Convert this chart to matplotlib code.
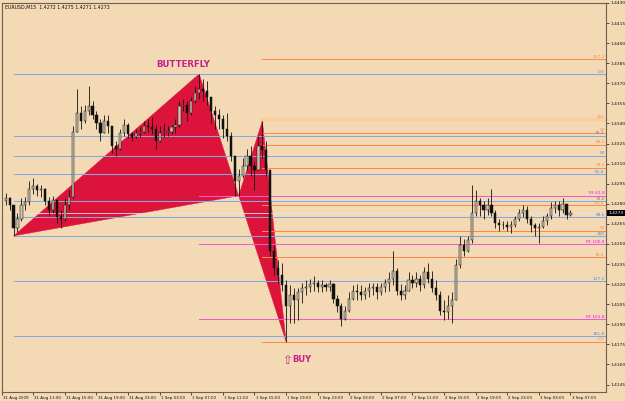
import matplotlib
matplotlib.use("Agg")
import matplotlib.pyplot as plt
import matplotlib.transforms as mtransforms
from matplotlib.patches import Polygon, Rectangle

# ---------------- data ----------------
title_text = "EURUSD,M15  1.4272 1.4275 1.4271 1.4273"

open0 = 1.4282
closes = [1.4284, 1.4279, 1.4262, 1.4269, 1.4279, 1.4281, 1.4291, 1.4293, 1.4290, 1.4291,
          1.4282, 1.4275, 1.4283, 1.4270, 1.4269, 1.4279, 1.4285, 1.4334, 1.4348, 1.4342,
          1.4349, 1.4353, 1.4346, 1.4340, 1.4333, 1.4342, 1.4338, 1.4323, 1.4321, 1.4333,
          1.4339, 1.4332, 1.4330, 1.4333, 1.4334, 1.4338, 1.4337, 1.4336, 1.4327, 1.4333,
          1.4334, 1.4334, 1.4337, 1.4339, 1.4353, 1.4354, 1.4348, 1.4357, 1.4363, 1.4366,
          1.4364, 1.4360, 1.4349, 1.4346, 1.4343, 1.4336, 1.4331, 1.4316, 1.4297, 1.4301,
          1.4308, 1.4316, 1.4308, 1.4305, 1.4323, 1.4320, 1.4305, 1.4245, 1.4232, 1.4227,
          1.4219, 1.4204, 1.4212, 1.4208, 1.4214, 1.4217, 1.4218, 1.4220, 1.4221, 1.4218,
          1.4219, 1.4218, 1.4220, 1.4209, 1.4204, 1.4194, 1.4200, 1.4209, 1.4215, 1.4214,
          1.4212, 1.4215, 1.4217, 1.4218, 1.4214, 1.4218, 1.4221, 1.4224, 1.4230, 1.4215,
          1.4212, 1.4215, 1.4223, 1.4221, 1.4224, 1.4219, 1.4229, 1.4224, 1.4217, 1.4212,
          1.4200, 1.4199, 1.4204, 1.4208, 1.4234, 1.4249, 1.4245, 1.4253, 1.4273, 1.4282,
          1.4279, 1.4275, 1.4279, 1.4273, 1.4266, 1.4264, 1.4264, 1.4263, 1.4264, 1.4269,
          1.4273, 1.4275, 1.4269, 1.4264, 1.4262, 1.4263, 1.4267, 1.4271, 1.4277, 1.4279,
          1.4275, 1.4280, 1.4272, 1.4273]
highs = [1.4288, 1.4285, 1.4279, 1.4273, 1.4284, 1.4285, 1.4297, 1.4299, 1.4295, 1.4294,
         1.4292, 1.4285, 1.4286, 1.4282, 1.4275, 1.4284, 1.4290, 1.4338, 1.4366, 1.4353,
         1.4354, 1.4368, 1.4357, 1.4349, 1.4343, 1.4346, 1.4346, 1.4338, 1.4327, 1.4336,
         1.4343, 1.4340, 1.4334, 1.4336, 1.4337, 1.4342, 1.4343, 1.4345, 1.4339, 1.4338,
         1.4340, 1.4338, 1.4339, 1.4343, 1.4357, 1.4358, 1.4357, 1.4360, 1.4368, 1.4377,
         1.4373, 1.4372, 1.4360, 1.4353, 1.4351, 1.4346, 1.4348, 1.4334, 1.4316, 1.4306,
         1.4314, 1.4321, 1.4323, 1.4312, 1.4331, 1.4342, 1.4327, 1.4305, 1.4249, 1.4238,
         1.4236, 1.4223, 1.4219, 1.4217, 1.4217, 1.4221, 1.4223, 1.4224, 1.4226, 1.4223,
         1.4223, 1.4221, 1.4223, 1.4221, 1.4212, 1.4206, 1.4204, 1.4214, 1.4219, 1.4220,
         1.4219, 1.4218, 1.4221, 1.4221, 1.4221, 1.4221, 1.4224, 1.4229, 1.4245, 1.4232,
         1.4220, 1.4219, 1.4229, 1.4227, 1.4229, 1.4227, 1.4233, 1.4236, 1.4230, 1.4223,
         1.4215, 1.4208, 1.4212, 1.4214, 1.4239, 1.4256, 1.4254, 1.4256, 1.4294, 1.4290,
         1.4284, 1.4282, 1.4284, 1.4291, 1.4275, 1.4269, 1.4267, 1.4267, 1.4267, 1.4271,
         1.4276, 1.4279, 1.4278, 1.4271, 1.4266, 1.4266, 1.4271, 1.4273, 1.4281, 1.4282,
         1.4282, 1.4284, 1.4278, 1.4275]
lows = [1.4279, 1.4275, 1.4256, 1.4259, 1.4267, 1.4275, 1.4279, 1.4287, 1.4286, 1.4285,
        1.4279, 1.4272, 1.4273, 1.4266, 1.4262, 1.4267, 1.4275, 1.4284, 1.4336, 1.4336,
        1.4340, 1.4346, 1.4343, 1.4336, 1.4327, 1.4334, 1.4333, 1.4318, 1.4316, 1.4320,
        1.4331, 1.4329, 1.4327, 1.4329, 1.4330, 1.4333, 1.4334, 1.4332, 1.4321, 1.4326,
        1.4330, 1.4331, 1.4332, 1.4333, 1.4337, 1.4349, 1.4342, 1.4346, 1.4355, 1.4358,
        1.4357, 1.4354, 1.4340, 1.4336, 1.4336, 1.4329, 1.4327, 1.4312, 1.4286, 1.4286,
        1.4299, 1.4305, 1.4301, 1.4290, 1.4308, 1.4314, 1.4301, 1.4241, 1.4227, 1.4221,
        1.4215, 1.4177, 1.4191, 1.4191, 1.4193, 1.4206, 1.4212, 1.4214, 1.4215, 1.4214,
        1.4214, 1.4215, 1.4215, 1.4206, 1.4199, 1.4189, 1.4193, 1.4199, 1.4208, 1.4208,
        1.4208, 1.4209, 1.4210, 1.4212, 1.4209, 1.4212, 1.4214, 1.4215, 1.4219, 1.4212,
        1.4208, 1.4209, 1.4215, 1.4217, 1.4218, 1.4215, 1.4217, 1.4221, 1.4214, 1.4208,
        1.4197, 1.4193, 1.4194, 1.4191, 1.4208, 1.4232, 1.4241, 1.4244, 1.4251, 1.4271,
        1.4271, 1.4269, 1.4272, 1.4271, 1.4262, 1.4260, 1.4261, 1.4260, 1.4258, 1.4263,
        1.4267, 1.4270, 1.4266, 1.4259, 1.4256, 1.4251, 1.4262, 1.4264, 1.4269, 1.4273,
        1.4271, 1.4273, 1.4269, 1.4271]

# butterfly pattern points (bar index, price): X, A, B, C, D
pattern_bars = [3, 50, 60, 66, 72]
pattern_prices = [1.4256, 1.4377, 1.4286, 1.4342, 1.4177]

# Fibonacci levels
blue_labels = ["0.0", "38.2", "50", "61.8", "78.6", "88.6", "100", "127.2", "161.8"]
blue_levels = [1.4377, 1.4331, 1.4316, 1.4302, 1.4282, 1.4270, 1.4256, 1.4222, 1.4181]
orange_labels = ["127.2", "50", "88.6", "78.6", "61.8", "50", "38.2", "0.0"]
orange_levels = [1.4388, 1.4333, 1.4324, 1.4307, 1.4279, 1.4260, 1.4240, 1.4177]
peach_label = "100"
peach_level = 1.4343
pink_labels = ["FE 61.8", "FE 100.0", "FE 161.8"]
pink_levels = [1.4286, 1.4250, 1.4194]

current_price = 1.4273

y_ticks = [1.4145, 1.4160, 1.4175, 1.4190, 1.4205, 1.4220, 1.4235, 1.4250, 1.4265,
           1.4280, 1.4295, 1.4310, 1.4325, 1.4340, 1.4355, 1.4370, 1.4385, 1.4400,
           1.4415, 1.4430]
x_tick_labels = ["31 Aug 2009", "31 Aug 11:00", "31 Aug 15:00", "31 Aug 19:00", "31 Aug 23:00",
                 "1 Sep 03:00", "1 Sep 07:00", "1 Sep 11:00", "1 Sep 15:00", "1 Sep 19:00",
                 "1 Sep 23:00", "2 Sep 03:00", "2 Sep 07:00", "2 Sep 11:00", "2 Sep 15:00",
                 "2 Sep 19:00", "2 Sep 23:00", "3 Sep 03:00", "3 Sep 07:00"]
bars_per_label = 8

# ---------------- style ----------------
BG = "#F3DAB4"
FRAME = "#6E6050"
CRIMSON = "#DC143C"
BLUE = "#84A9E2"
ORANGE = "#FF8A4C"
PEACH = "#FFC99A"
PINK = "#F05CC8"
MAGENTA = "#FF00FF"
TEXTPINK = "#C81E8C"

W, H = 625, 401
fig = plt.figure(figsize=(W / 100, H / 100), dpi=100, facecolor=BG)
left_px, right_px, top_px, bottom_px = 1.7, 606, 3, 392
ax = fig.add_axes([left_px / W, (H - bottom_px) / H,
                   (right_px - left_px) / W, (bottom_px - top_px) / H])
ax.set_facecolor(BG)

n = len(closes)
idx = list(range(1, n + 1))
opens = [open0] + closes[:-1]

XMAX = 153.0
ax.set_xlim(0, XMAX)
ax.set_ylim(1.41394, 1.44290)

# triangles
X, A, B, C, D = list(zip(pattern_bars, pattern_prices))
ax.add_patch(Polygon([X, A, B], closed=True, facecolor=CRIMSON, edgecolor=CRIMSON,
                     lw=0.3, zorder=1))
ax.add_patch(Polygon([B, C, D], closed=True, facecolor=CRIMSON, edgecolor=CRIMSON,
                     lw=0.3, zorder=1))

# faint bid line
ax.plot([0, XMAX], [current_price, current_price], color="#F5E2CC", lw=0.6, zorder=1.5)

# level lines
lab_x = XMAX - 0.35
fs_lab = 3.1
LW = 0.75
for lab, lv in zip(blue_labels, blue_levels):
    ax.plot([pattern_bars[0], XMAX], [lv, lv], color=BLUE, lw=LW, zorder=2)
    ax.text(lab_x, lv + 0.00003, lab, color="#5A86D0", fontsize=fs_lab,
            ha="right", va="bottom", zorder=5)
for lab, lv in zip(orange_labels, orange_levels):
    ax.plot([pattern_bars[3], XMAX], [lv, lv], color=ORANGE, lw=LW, zorder=2)
    ax.text(lab_x, lv + 0.00003, lab, color=ORANGE, fontsize=fs_lab,
            ha="right", va="bottom", zorder=5)
ax.plot([pattern_bars[3], XMAX], [peach_level, peach_level], color=PEACH, lw=2.4, zorder=2)
ax.text(lab_x, peach_level + 0.00005, peach_label, color=ORANGE, fontsize=fs_lab,
        ha="right", va="bottom", zorder=5)
for lab, lv in zip(pink_labels, pink_levels):
    ax.plot([pattern_bars[1], XMAX], [lv, lv], color=PINK, lw=LW, zorder=2)
    ax.text(lab_x, lv + 0.00003, lab, color=MAGENTA, fontsize=fs_lab,
            ha="right", va="bottom", zorder=5)

# candles
bw = 0.55
for i, o, h, l, c in zip(idx, opens, highs, lows, closes):
    hi = max(h, o, c)
    lo = min(l, o, c)
    ax.plot([i, i], [lo, hi], color="#111111", lw=0.6, zorder=3, solid_capstyle="butt")
    bot = min(o, c)
    ht = abs(c - o)
    if ht < 0.00003:
        ht = 0.00003
    fc = "#CFC4AE" if c >= o else "#111111"
    ax.add_patch(Rectangle((i - bw / 2, bot), bw, ht, facecolor=fc,
                           edgecolor="#111111", lw=0.35, zorder=3.5))

# pattern texts
ax.text(45.9, 1.43844, "BUTTERFLY", color=TEXTPINK, fontsize=6.2, fontweight="bold",
        ha="center", va="center", zorder=6)
ax.text(pattern_bars[4] + 0.1, 1.41632, "\u21e7", color=TEXTPINK, fontsize=8.5,
        ha="center", va="center", zorder=6)
ax.text(pattern_bars[4] + 1.5, 1.41635, "BUY", color=TEXTPINK, fontsize=6.0,
        fontweight="bold", ha="left", va="center", zorder=6)

# title
ax.text(0.006, 0.995, title_text, transform=ax.transAxes, fontsize=3.4,
        color="#111111", ha="left", va="top", zorder=6)

# axes styling
for sp in ax.spines.values():
    sp.set_color(FRAME)
    sp.set_linewidth(0.8)

ax.yaxis.tick_right()
ax.set_yticks(y_ticks)
ax.set_yticklabels([f"{v:.4f}" for v in y_ticks])
ax.tick_params(axis="y", direction="out", length=2, width=0.5, colors="#111111",
               labelsize=3.2, pad=1.5)

xt = [k * bars_per_label for k in range(len(x_tick_labels))]
ax.set_xticks(xt)
ax.set_xticklabels(x_tick_labels, ha="left")
ax.tick_params(axis="x", direction="out", length=2, width=0.5, colors="#111111",
               labelsize=2.9, pad=0.8)
offset = mtransforms.ScaledTranslation(1.2 / 100, 0, fig.dpi_scale_trans)
for lbl in ax.get_xticklabels():
    lbl.set_transform(lbl.get_transform() + offset)

# current price box
trans = mtransforms.blended_transform_factory(ax.transAxes, ax.transData)
ax.text(1.004, current_price, f"{current_price:.4f}", transform=trans, fontsize=3.2,
        color="white", ha="left", va="center", zorder=7, clip_on=False,
        bbox=dict(boxstyle="square,pad=0.25", facecolor="black", edgecolor="black", lw=0))

fig.savefig("out.png", dpi=100, facecolor=BG)
